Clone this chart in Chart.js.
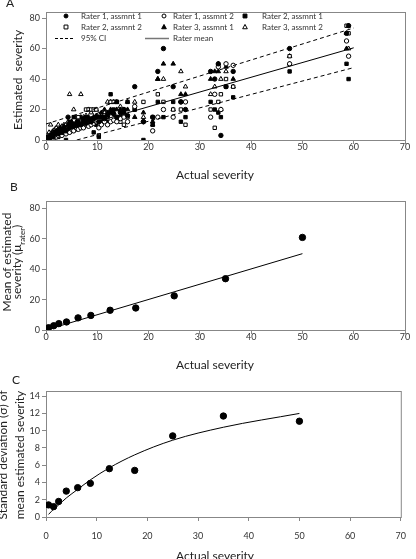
<!DOCTYPE html>
<html>
<head>
<meta charset="utf-8">
<script src="https://cdn.jsdelivr.net/npm/chart.js@4.4.0/dist/chart.umd.min.js"></script>
<style>
  body { margin: 0; background: #fff; width: 416px; height: 559px; overflow: hidden; position: relative; font-family: Lato, "Open Sans", sans-serif; color: #222; }
  canvas { position: absolute; left: 0; }
  .txt { position: absolute; white-space: nowrap; font-size: 12px; transform: translate(-50%, -50%); }
  .rot { position: absolute; white-space: nowrap; font-size: 12px; transform: translate(-50%, -50%) rotate(-90deg); }
  sub { font-size: 8px; }
</style>
</head>
<body>
<canvas id="chartA" width="416" height="190" style="top:0"></canvas>
<canvas id="chartB" width="416" height="190" style="top:190px"></canvas>
<canvas id="chartC" width="416" height="179" style="top:380px"></canvas>

<div class="txt" style="left:10px;top:2px">A</div>
<div class="txt" style="left:14px;top:186px">B</div>
<div class="txt" style="left:16px;top:379px">C</div>

<div class="rot" style="left:17px;top:80px">Estimated&nbsp; severity</div>
<div class="rot" style="left:6px;top:262px">Mean of estimated</div>
<div class="rot" style="left:18px;top:262px">severity (μ<sub>rater</sub>)</div>
<div class="rot" style="left:2px;top:455px">Standard deviation (σ) of</div>
<div class="rot" style="left:19px;top:455px">mean estimated severity</div>

<div class="txt" style="left:215px;top:174px">Actual severity</div>
<div class="txt" style="left:215px;top:364px">Actual severity</div>
<div class="txt" style="left:215px;top:555px">Actual severity</div>

<script>
// ─────────────────────────────────────────────────
// Data
// ─────────────────────────────────────────────────
const xTicks = [0, 10, 20, 30, 40, 50, 60, 70];
const yTicksA = [0, 20, 40, 60, 80];
const yTicksB = [0, 20, 40, 60, 80];
const yTicksC = [0, 2, 4, 6, 8, 10, 12, 14];

// Panel A: actual severity of each image, and each rater's estimate of it
const actualA = [0.2, 0.4, 0.6, 0.9, 1.1, 1.4, 1.7, 2.0, 2.4, 2.8, 3.1, 3.5, 3.9, 4.3, 4.6, 5.0, 5.4, 5.9,
  6.3, 6.8, 7.3, 7.8, 8.3, 8.8, 9.3, 9.8, 10.3, 10.8, 11.4, 12.0, 12.6, 13.2, 13.8, 14.5, 15.2, 15.9,
  17.3, 19.0, 20.8, 21.8, 22.9, 24.8, 26.3, 27.2, 32.1, 32.9, 33.6, 34.1, 35.1, 36.5, 47.5, 58.6, 59.0];
const rater1Assmnt1 = [0, 1, 1, 2, 3, 2, 4, 5, 4, 6, 5, 7, 6, 15, 8, 10, 9, 10,
  12, 10, 12, 11, 13, 12, 14, 15, 12, 15, 14, 16, 18, 17, 15, 18, 20, 16,
  35, 12, 15, 45, 60, 35, 25, 20, 45, 40, 50, 3, 35, 45, 60, 70, 75];
const rater1Assmnt2 = [1, 0, 1, 1, 2, 1, 3, 2, 3, 4, 3, 5, 4, 6, 5, 7, 6, 8,
  7, 8, 8, 10, 9, 10, 11, 12, 8, 10, 12, 10, 12, 13, 12, 14, 15, 12,
  22, 12, 6, 15, 20, 15, 25, 25, 15, 30, 48, 20, 50, 49, 50, 65, 55];
const rater2Assmnt1 = [0, 0, 0, 1, 1, 2, 2, 3, 2, 3, 4, 4, 0, 5, 12, 6, 15, 7,
  8, 10, 9, 15, 10, 12, 5, 10, 2, 12, 15, 12, 30, 20, 25, 15, 18, 25,
  20, 0, 10, 25, 15, 25, 12, 15, 25, 20, 18, 15, 35, 28, 45, 50, 40];
const rater2Assmnt2 = [0, 1, 0, 1, 2, 1, 3, 2, 3, 5, 4, 6, 5, 7, 8, 8, 7, 10,
  15, 9, 12, 20, 20, 20, 20, 20, 3, 15, 16, 15, 25, 25, 25, 12, 10, 15,
  20, 25, 15, 30, 25, 20, 20, 10, 20, 8, 25, 30, 40, 35, 55, 75, 70];
const rater3Assmnt1 = [1, 2, 2, 3, 4, 5, 5, 6, 7, 8, 7, 9, 8, 10, 10, 12, 10, 12,
  10, 15, 14, 12, 15, 14, 15, 16, 15, 18, 20, 18, 20, 18, 20, 20, 18, 20,
  15, 18, 12, 40, 50, 50, 30, 30, 40, 45, 45, 20, 48, 40, 55, 60, 75];
const rater3Assmnt2 = [0, 3, 5, 10, 5, 6, 7, 8, 10, 8, 9, 10, 10, 12, 30, 12, 20, 15,
  14, 30, 15, 16, 20, 18, 15, 20, 17, 16, 18, 25, 25, 25, 25, 22, 20, 25,
  25, 15, 10, 40, 40, 20, 45, 35, 30, 35, 50, 40, 45, 35, 50, 70, 60];

// Panel A fitted lines (end points)
const meanLineX = [0, 60];
const meanLineY = [2.5, 60.5];
const ciUpperX = [0, 60];
const ciUpperY = [10.5, 73.5];
const ciLowerX = [6, 60];
const ciLowerY = [0, 47.5];

// Panels B and C: severity classes
const classSeverity = [0.5, 1.5, 2.5, 4, 6.25, 8.75, 12.5, 17.5, 25, 35, 50];
const meanEstimate = [1.5, 2.8, 4.2, 5.3, 8.0, 9.6, 13.0, 14.5, 22.5, 33.8, 61.0];
const meanFitX = [0.3, 50];
const meanFitY = [0.3, 50.3];
const sdEstimate = [1.4, 1.2, 1.8, 3.0, 3.4, 3.9, 5.6, 5.4, 9.4, 11.7, 11.1];
const sdFit = [0.3, 0.9, 1.4, 2.2, 3.2, 4.3, 5.7, 7.2, 8.9, 10.4, 12.0];

// ─────────────────────────────────────────────────
// Helpers
// ─────────────────────────────────────────────────
const GREY = '#878787';
const TICK_FONT = { family: 'Lato, "Open Sans", sans-serif', size: 9 };
const pts = (xs, ys) => xs.map((x, i) => ({ x: x, y: ys[i] }));
const fixTicks = vals => axis => { axis.ticks = vals.map(v => ({ value: v })); };

const framePlugin = {
    id: 'frame',
    beforeDatasetsDraw(chart) {
        const a = chart.chartArea, ctx = chart.ctx;
        ctx.save();
        ctx.strokeStyle = GREY; ctx.lineWidth = 1;
        ctx.strokeRect(a.left + 0.5, a.top + 0.5, a.right - a.left, a.bottom - a.top);
        ctx.restore();
    }
};

function mark(ctx, style, x, y, r, filled) {
    ctx.beginPath();
    if (style === 'circle') ctx.arc(x, y, r, 0, Math.PI * 2);
    else if (style === 'rect') ctx.rect(x - r * 0.9, y - r * 0.9, r * 1.8, r * 1.8);
    else { ctx.moveTo(x, y - r * 1.1); ctx.lineTo(x + r, y + r * 0.75); ctx.lineTo(x - r, y + r * 0.75); ctx.closePath(); }
    ctx.fillStyle = filled ? '#000' : '#fff';
    ctx.fill();
    ctx.strokeStyle = '#000'; ctx.lineWidth = 1; ctx.stroke();
}

function axes(xMax, yMax, yTicks, left, xH, xPad) {
    return {
        x: {
            type: 'linear', min: 0, max: xMax,
            afterBuildTicks: fixTicks(xTicks),
            afterFit: s => { s.height = xH; },
            grid: { drawOnChartArea: false, tickLength: 4, color: GREY },
            border: { color: GREY },
            ticks: { color: '#333', font: TICK_FONT, padding: xPad, maxRotation: 0 }
        },
        y: {
            type: 'linear', min: 0, max: yMax,
            afterBuildTicks: fixTicks(yTicks),
            afterFit: s => { s.width = left; },
            grid: { drawOnChartArea: false, tickLength: 4, color: GREY },
            border: { color: GREY },
            ticks: { color: '#333', font: TICK_FONT, padding: 2 }
        }
    };
}

const base = (scales, top) => ({
    responsive: false, animation: false,
    layout: { padding: { top: top, right: 11, left: 0, bottom: 0 } },
    plugins: { legend: { display: false }, tooltip: { enabled: false } },
    scales: scales
});

// ─────────────────────────────────────────────────
// Panel A — individual estimates
// ─────────────────────────────────────────────────
const raterSeries = [
    { label: 'Rater 1, assmnt 1', data: rater1Assmnt1, style: 'circle', filled: true, r: 2.2 },
    { label: 'Rater 1, assmnt 2', data: rater1Assmnt2, style: 'circle', filled: false, r: 2.2 },
    { label: 'Rater 2, assmnt 1', data: rater2Assmnt1, style: 'rect', filled: true, r: 2.4 },
    { label: 'Rater 2, assmnt 2', data: rater2Assmnt2, style: 'rect', filled: false, r: 2.4 },
    { label: 'Rater 3, assmnt 1', data: rater3Assmnt1, style: 'triangle', filled: true, r: 2.6 },
    { label: 'Rater 3, assmnt 2', data: rater3Assmnt2, style: 'triangle', filled: false, r: 2.6 }
];

const legendA = {
    id: 'legendA',
    afterDraw(chart) {
        const ctx = chart.ctx;
        const colM = [66, 164, 245], colT = [81, 173, 262], rowY = [16, 27, 38];
        ctx.save();
        ctx.font = '8px Lato, "Open Sans", sans-serif';
        ctx.textBaseline = 'middle';
        raterSeries.forEach((s, i) => {
            const c = i % 3, r = Math.floor(i / 3);
            mark(ctx, s.style, colM[c], rowY[r], s.r * 0.9, s.filled);
            ctx.fillStyle = '#333';
            ctx.fillText(s.label, colT[c], rowY[r]);
        });
        ctx.strokeStyle = '#000'; ctx.lineWidth = 1;
        ctx.setLineDash([3, 2]);
        ctx.beginPath(); ctx.moveTo(55, rowY[2] + 0.5); ctx.lineTo(75, rowY[2] + 0.5); ctx.stroke();
        ctx.setLineDash([]);
        ctx.strokeStyle = '#777'; ctx.lineWidth = 1.5;
        ctx.beginPath(); ctx.moveTo(145, rowY[2] + 0.5); ctx.lineTo(169, rowY[2] + 0.5); ctx.stroke();
        ctx.fillStyle = '#333';
        ctx.fillText('95% CI', 81, rowY[2]);
        ctx.fillText('Rater mean', 173, rowY[2]);
        ctx.restore();
    }
};

new Chart(document.getElementById('chartA'), {
    type: 'scatter',
    data: {
        datasets: [
            { data: pts(ciUpperX, ciUpperY), showLine: true, pointRadius: 0, borderColor: '#000', borderWidth: 1, borderDash: [4, 3] },
            { data: pts(meanLineX, meanLineY), showLine: true, pointRadius: 0, borderColor: '#000', borderWidth: 1 },
            { data: pts(ciLowerX, ciLowerY), showLine: true, pointRadius: 0, borderColor: '#000', borderWidth: 1, borderDash: [4, 3] }
        ].concat(raterSeries.map(s => ({
            label: s.label,
            data: pts(actualA, s.data),
            pointStyle: s.style,
            pointRadius: s.r,
            pointBackgroundColor: s.filled ? '#000' : '#fff',
            pointBorderColor: '#000',
            pointBorderWidth: 1
        })))
    },
    options: base(axes(70, 84, yTicksA, 46, 50, -2), 12),
    plugins: [framePlugin, legendA]
});

// ─────────────────────────────────────────────────
// Panel B — mean of estimated severity
// ─────────────────────────────────────────────────
new Chart(document.getElementById('chartB'), {
    type: 'scatter',
    data: {
        datasets: [
            { data: pts(classSeverity, meanEstimate), pointRadius: 3.2, pointBackgroundColor: '#000', pointBorderColor: '#000' },
            { data: pts(meanFitX, meanFitY), showLine: true, pointRadius: 0, borderColor: '#000', borderWidth: 1 }
        ]
    },
    options: base(axes(70, 85, yTicksB, 46, 50, -2), 11),
    plugins: [framePlugin]
});

// ─────────────────────────────────────────────────
// Panel C — SD of mean estimated severity
// ─────────────────────────────────────────────────
new Chart(document.getElementById('chartC'), {
    type: 'scatter',
    data: {
        datasets: [
            { data: pts(classSeverity, sdEstimate), pointRadius: 3.2, pointBackgroundColor: '#000', pointBorderColor: '#000' },
            { data: pts(classSeverity, sdFit), showLine: true, cubicInterpolationMode: 'monotone', pointRadius: 0, borderColor: '#000', borderWidth: 1 }
        ]
    },
    options: base(axes(70, 14.6, yTicksC, 46, 42, 10), 11),
    plugins: [framePlugin]
});
</script>
</body>
</html>
